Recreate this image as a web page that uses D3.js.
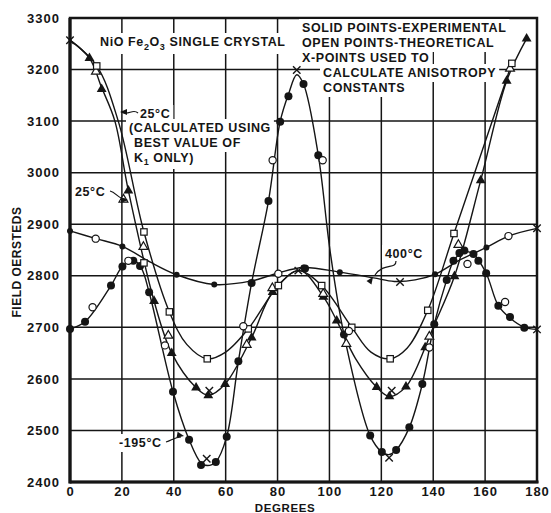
<!DOCTYPE html>
<html>
<head>
<meta charset="utf-8">
<script src="https://cdn.jsdelivr.net/npm/d3@7"></script>
<style>
  body { margin: 0; background: #fff; }
  text { font-family: "Liberation Sans", Arial, sans-serif; font-weight: bold; fill: #151515; }
</style>
</head>
<body>
<div id="chart"></div>
<script>
// ---- data (degrees, oersteds) ----
const degreeTicks = [0, 20, 40, 60, 80, 100, 120, 140, 160, 180];
const fieldTicks = [2400, 2500, 2600, 2700, 2800, 2900, 3000, 3100, 3200, 3300];

// -195 C curve
const curveMinus195 = [
  [0, 2697], [5.8, 2711], [15.8, 2781], [20.2, 2818], [24.4, 2830], [27.5, 2815], [30.5, 2768],
  [39.7, 2575], [45.9, 2482], [50.5, 2437], [53, 2432], [56.2, 2439], [60.4, 2488], [64.9, 2634],
  [70, 2786], [76.5, 2945], [81, 3099], [84.2, 3152], [87.4, 3190], [90, 3172], [95.7, 3034],
  [100.2, 2850], [105.6, 2686], [115.7, 2490], [120.2, 2458], [122.8, 2453], [125.7, 2462],
  [130.8, 2506], [135.8, 2590], [140.4, 2706], [145.2, 2792], [148, 2830], [152, 2847],
  [155.5, 2842], [160.4, 2805], [165.1, 2742], [169.6, 2718], [175.1, 2700], [180, 2696]
];
// 25 C experimental curve (solid triangles)
const curve25 = [
  [0, 3257], [7.5, 3222], [12.2, 3165], [17.3, 3100], [22.5, 2965], [32.4, 2751], [39.2, 2650],
  [48.6, 2583], [53.3, 2568], [59.8, 2590], [70, 2680], [78.1, 2768], [88.5, 2810], [97.7, 2759],
  [102.8, 2713], [110, 2640], [118.2, 2584], [123.1, 2566], [129.5, 2585], [136.9, 2661],
  [140, 2700], [148.2, 2799], [158.3, 2985], [168.3, 3178], [176, 3260]
];
// 25 C calculated with K1 only (open squares)
const curve25K1 = [
  [0, 3257], [10.3, 3207], [18.6, 3100], [28.5, 2885], [38.3, 2730], [45, 2667], [52.9, 2639],
  [60, 2652], [68.7, 2697], [80.3, 2781], [88, 2810], [97, 2781], [108.6, 2700], [116, 2652],
  [123.4, 2639], [130, 2660], [137.9, 2733], [148, 2882], [170.3, 3212]
];
// 400 C curve
const curve400 = [
  [0, 2887], [10, 2872], [20.2, 2857], [30.8, 2827], [41.1, 2802], [55.6, 2783], [70, 2790],
  [80, 2805], [90, 2816], [104, 2807], [117, 2796], [125, 2789], [133, 2792], [140.7, 2803],
  [150, 2830], [160.5, 2855], [169, 2877], [180, 2892]
];

// point markers
const solidCircles = [
  [0, 2697], [5.8, 2711], [15.8, 2781], [20.2, 2818], [24.4, 2829], [27, 2819], [30.5, 2768],
  [39.7, 2575], [45.9, 2482], [50.5, 2433], [56.2, 2439], [60.4, 2488], [64.9, 2634], [70, 2786],
  [76.5, 2945], [81, 3099], [84.2, 3148], [90, 3172], [95.7, 3034], [90.6, 2814], [105.6, 2686],
  [115.7, 2490], [120.2, 2458], [125.7, 2462], [130.8, 2506], [135.8, 2590], [140.4, 2706],
  [145.2, 2792], [147.8, 2829], [150.1, 2844], [152, 2849], [155.5, 2842], [157.4, 2829],
  [160.4, 2805], [165.1, 2742], [169.6, 2720], [175.1, 2699]
];
const solidTriangles = [
  [7.5, 3222], [12.2, 3162], [22.5, 2965], [32.4, 2751], [39.2, 2650], [48.6, 2583], [53.3, 2568],
  [59.8, 2590], [70, 2680], [78.1, 2768], [97.7, 2759], [102.8, 2713], [118.2, 2584], [123.1, 2566],
  [129.5, 2585], [136.9, 2661], [148.2, 2799], [158.3, 2985], [168.3, 3178], [176, 3260]
];
const openSquares = [
  [10.3, 3207], [28.5, 2885], [28.5, 2825], [38.3, 2730], [52.9, 2639], [68.7, 2697], [80.3, 2781],
  [97, 2781], [108.6, 2700], [123.4, 2639], [137.9, 2733], [148, 2882], [170.3, 3212]
];
const openTriangles = [
  [10, 3196], [20.6, 2948], [28.3, 2856], [37.9, 2684], [68.1, 2666], [78, 2776], [97.6, 2765],
  [106.5, 2668], [138.5, 2682], [149.7, 2860], [169.6, 3202]
];
const openCircles = [
  [8.7, 2739], [22.5, 2829], [36.6, 2665], [66.8, 2702], [78.1, 3024], [97.4, 3024], [107.5, 2693],
  [138.5, 2661], [153.2, 2823], [167.7, 2749], [9.9, 2872], [169, 2877], [80.3, 2804]
];
const smallDots400 = [
  [0, 2887], [20.2, 2857], [41.1, 2802], [55.6, 2783], [90, 2816], [104, 2807], [140.7, 2803], [160.5, 2855]
];
const xPoints = [
  [0, 3257], [52.7, 2445], [53.7, 2577], [87.4, 3199], [88, 2810], [123, 2447], [124, 2577],
  [127.2, 2788], [180, 2696], [180, 2892]
];

const legendLines = [
  'SOLID POINTS-EXPERIMENTAL',
  'OPEN POINTS-THEORETICAL',
  'X-POINTS USED TO',
  'CALCULATE ANISOTROPY',
  'CONSTANTS'
];
const calcNoteLines = ['(CALCULATED USING', 'BEST VALUE OF', 'K'];

// ---- layout ----
const W = 551, H = 513;
const margin = { top: 18, right: 14, bottom: 31, left: 70 };
const width = W - margin.left - margin.right;
const height = H - margin.top - margin.bottom;

const svg = d3.select('#chart')
  .append('svg')
  .attr('width', W)
  .attr('height', H);

const x = d3.scaleLinear().domain([0, 180]).range([margin.left, margin.left + width]);
const y = d3.scaleLinear().domain([2400, 3300]).range([margin.top + height, margin.top]);

const ink = '#151515';

const gridLayer = svg.append('g');
const maskLayer = svg.append('g');
const curveLayer = svg.append('g');
const markLayer = svg.append('g');
const textLayer = svg.append('g');

// grid lines
gridLayer.selectAll('.vgrid')
  .data(degreeTicks).enter().append('line')
  .attr('x1', (d) => x(d)).attr('x2', (d) => x(d))
  .attr('y1', margin.top).attr('y2', margin.top + height)
  .attr('stroke', ink).attr('stroke-width', 1.5);
gridLayer.selectAll('.hgrid')
  .data(fieldTicks).enter().append('line')
  .attr('x1', margin.left).attr('x2', margin.left + width)
  .attr('y1', (d) => y(d)).attr('y2', (d) => y(d))
  .attr('stroke', ink).attr('stroke-width', 1.5);

// tick labels via axes
const xAxis = svg.append('g')
  .attr('transform', `translate(0,${margin.top + height})`)
  .call(d3.axisBottom(x).tickValues(degreeTicks).tickSize(0).tickPadding(5));
const yAxis = svg.append('g')
  .attr('transform', `translate(${margin.left},0)`)
  .call(d3.axisLeft(y).tickValues(fieldTicks).tickFormat(d3.format('d')).tickSize(0).tickPadding(10));

[xAxis, yAxis].forEach((ax) => {
  ax.select('.domain').remove();
  ax.selectAll('text')
    .attr('fill', ink)
    .style('font-size', '13px')
    .style('letter-spacing', '1px')
    .style('font-weight', 'bold')
    .style('font-family', '"Liberation Sans", Arial, sans-serif');
});

// frame
gridLayer.append('rect')
  .attr('x', margin.left).attr('y', margin.top)
  .attr('width', width).attr('height', height)
  .attr('fill', 'none').attr('stroke', ink).attr('stroke-width', 2.5);
gridLayer.append('line')
  .attr('x1', margin.left).attr('x2', margin.left)
  .attr('y1', margin.top).attr('y2', margin.top + height + 1.5)
  .attr('stroke', ink).attr('stroke-width', 3.2);
gridLayer.append('line')
  .attr('x1', margin.left).attr('x2', margin.left + width + 1.5)
  .attr('y1', margin.top + height).attr('y2', margin.top + height)
  .attr('stroke', ink).attr('stroke-width', 3.2);

// axis titles
svg.append('text')
  .attr('x', 285).attr('y', 512)
  .attr('text-anchor', 'middle')
  .style('font-size', '11.5px')
  .style('letter-spacing', '0.6px')
  .text('DEGREES');
svg.append('text')
  .attr('transform', 'translate(21,262) rotate(-90)')
  .attr('text-anchor', 'middle')
  .style('font-size', '12px')
  .style('letter-spacing', '0.5px')
  .text('FIELD OERSTEDS');

// curves
const line = d3.line()
  .x((d) => x(d[0]))
  .y((d) => y(d[1]))
  .curve(d3.curveCatmullRom.alpha(0.5));

[curveMinus195, curve25, curve25K1, curve400].forEach((c) => {
  curveLayer.append('path')
    .attr('d', line(c))
    .attr('fill', 'none')
    .attr('stroke', ink)
    .attr('stroke-width', 1.4);
});

// markers
markLayer.selectAll('.solid-circle')
  .data(solidCircles).enter().append('circle')
  .attr('cx', (d) => x(d[0])).attr('cy', (d) => y(d[1]))
  .attr('r', 4).attr('fill', ink);

markLayer.selectAll('.dot400')
  .data(smallDots400).enter().append('circle')
  .attr('cx', (d) => x(d[0])).attr('cy', (d) => y(d[1]))
  .attr('r', 3).attr('fill', ink);

markLayer.selectAll('.solid-tri')
  .data(solidTriangles).enter().append('path')
  .attr('transform', (d) => `translate(${x(d[0])},${y(d[1])})`)
  .attr('d', d3.symbol().type(d3.symbolTriangle).size(42))
  .attr('fill', ink);

markLayer.selectAll('.open-tri')
  .data(openTriangles).enter().append('path')
  .attr('transform', (d) => `translate(${x(d[0])},${y(d[1])})`)
  .attr('d', d3.symbol().type(d3.symbolTriangle).size(34))
  .attr('fill', '#fff').attr('stroke', ink).attr('stroke-width', 1.2);

markLayer.selectAll('.open-sq')
  .data(openSquares).enter().append('rect')
  .attr('x', (d) => x(d[0]) - 3.2).attr('y', (d) => y(d[1]) - 3.2)
  .attr('width', 6.4).attr('height', 6.4)
  .attr('fill', '#fff').attr('stroke', ink).attr('stroke-width', 1.2);

markLayer.selectAll('.open-circle')
  .data(openCircles).enter().append('circle')
  .attr('cx', (d) => x(d[0])).attr('cy', (d) => y(d[1]))
  .attr('r', 3.6).attr('fill', '#fff').attr('stroke', ink).attr('stroke-width', 1.2);

markLayer.selectAll('.xpt')
  .data(xPoints).enter().append('path')
  .attr('transform', (d) => `translate(${x(d[0])},${y(d[1])})`)
  .attr('d', d3.symbol().type(d3.symbolTimes).size(38))
  .attr('fill', 'none').attr('stroke', ink).attr('stroke-width', 1.4);

// ---- annotations ----
function label(px, py, str, size) {
  return textLayer.append('text')
    .attr('x', px).attr('y', py)
    .style('font-size', (size || 12.5) + 'px')
    .style('letter-spacing', '0.6px')
    .text(str);
}

// title with subscripts
const title = textLayer.append('text')
  .attr('x', 100).attr('y', 46)
  .style('font-size', '12.5px')
  .style('letter-spacing', '0.6px');
title.append('tspan').text('NiO Fe');
title.append('tspan').attr('dy', 4).style('font-size', '9px').text('2');
title.append('tspan').attr('dy', -4).text('O');
title.append('tspan').attr('dy', 4).style('font-size', '9px').text('3');
title.append('tspan').attr('dy', -4).text('  SINGLE  CRYSTAL');

legendLines.forEach((t, i) => {
  label(i < 3 ? 302 : 323, 32 + i * 15, t);
});

label(140, 118, '25°C');
label(129, 132, calcNoteLines[0]);
label(134, 147, calcNoteLines[1]);
const k1 = label(134, 162, calcNoteLines[2]);
k1.append('tspan').attr('dy', 3).style('font-size', '9px').text('1');
k1.append('tspan').attr('dy', -3).text(' ONLY)');

label(75, 196, '25°C');
label(385, 258, '400°C');
label(119, 447, '-195°C');

// white patches behind annotation text so the grid stops there
textLayer.selectAll('text').each(function () {
  const b = this.getBBox();
  maskLayer.append('rect')
    .attr('x', b.x - 3).attr('y', b.y - 2)
    .attr('width', b.width + 6).attr('height', b.height + 4)
    .attr('fill', '#fff');
});

// leader lines with arrowheads
function leader(d, tip, angle) {
  textLayer.append('path')
    .attr('d', d).attr('fill', 'none')
    .attr('stroke', ink).attr('stroke-width', 1.2);
  textLayer.append('path')
    .attr('transform', `translate(${tip[0]},${tip[1]}) rotate(${angle})`)
    .attr('d', 'M0,0 L7,-3 L7,3 Z')
    .attr('fill', ink);
}
leader('M138,113 C133,108 128,116 122,112', [120, 112], 0);
leader('M110,191 C116,192 118,199 125,199', [128, 200], 180);
leader('M396,261 C396,270 384,262 375,275', [373, 277], 125);
leader('M166,442 C172,440 175,437 181,437', [184, 436], 190);
</script>
</body>
</html>
